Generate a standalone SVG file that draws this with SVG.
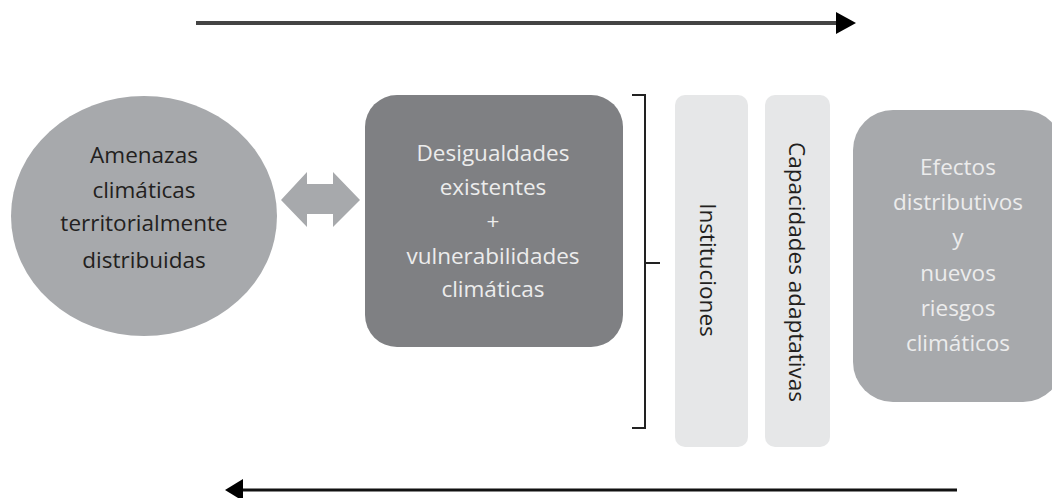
<svg xmlns="http://www.w3.org/2000/svg" width="1052" height="498" viewBox="0 0 1052 498">
<style>
.t{font-family:"Open Sans","Noto Sans",sans-serif;font-size:22.5px;text-anchor:middle}
.dk{fill:#231f20}
.lt{fill:#ececec}
</style>
<rect width="1052" height="498" fill="#ffffff"/>
<g id="connectors">
<line x1="196" y1="23" x2="838" y2="23" stroke="#444" stroke-width="4"/>
<polygon points="836,12 856,23 836,34" fill="#000"/>
<line x1="240" y1="490" x2="957" y2="490" stroke="#111" stroke-width="3"/>
<polygon points="243,479 225,490 243,501" fill="#000"/>
<polygon id="double-arrow" points="281,200 307,172 307,184 333,184 333,172 360,200 333,227 333,214 307,214 307,227" fill="#a7a9ac"/>
<path d="M632,95 H645 V428 H632 M645,263 H660" fill="none" stroke="#222" stroke-width="2"/>
</g>
<g id="amenazas">
<ellipse cx="144" cy="216" rx="133" ry="120" fill="#a7a9ac"/>
<text class="t dk" x="144" y="163">Amenazas</text>
<text class="t dk" x="144" y="198">climáticas</text>
<text class="t dk" x="144" y="231">territorialmente</text>
<text class="t dk" x="144" y="268">distribuidas</text>
</g>
<g id="desigualdades">
<rect x="365" y="95" width="258" height="252" rx="32" fill="#7f8083"/>
<text class="t lt" x="493" y="161">Desigualdades</text>
<text class="t lt" x="493" y="195">existentes</text>
<text class="t lt" x="493" y="229">+</text>
<text class="t lt" x="493" y="264">vulnerabilidades</text>
<text class="t lt" x="493" y="297">climáticas</text>
</g>
<g id="instituciones">
<rect x="675" y="95" width="73" height="352" rx="10" fill="#e6e7e8"/>
<text class="t dk" transform="translate(700,270) rotate(90)">Instituciones</text>
</g>
<g id="capacidades">
<rect x="765" y="95" width="65" height="352" rx="10" fill="#e6e7e8"/>
<text class="t dk" transform="translate(789,272) rotate(90)">Capacidades adaptativas</text>
</g>
<g id="efectos">
<rect x="853" y="110" width="210" height="292" rx="40" fill="#a7a9ac"/>
<text class="t lt" x="958" y="175">Efectos</text>
<text class="t lt" x="958" y="210">distributivos</text>
<text class="t lt" x="958" y="245">y</text>
<text class="t lt" x="958" y="281">nuevos</text>
<text class="t lt" x="958" y="316">riesgos</text>
<text class="t lt" x="958" y="351">climáticos</text>
</g>
</svg>
